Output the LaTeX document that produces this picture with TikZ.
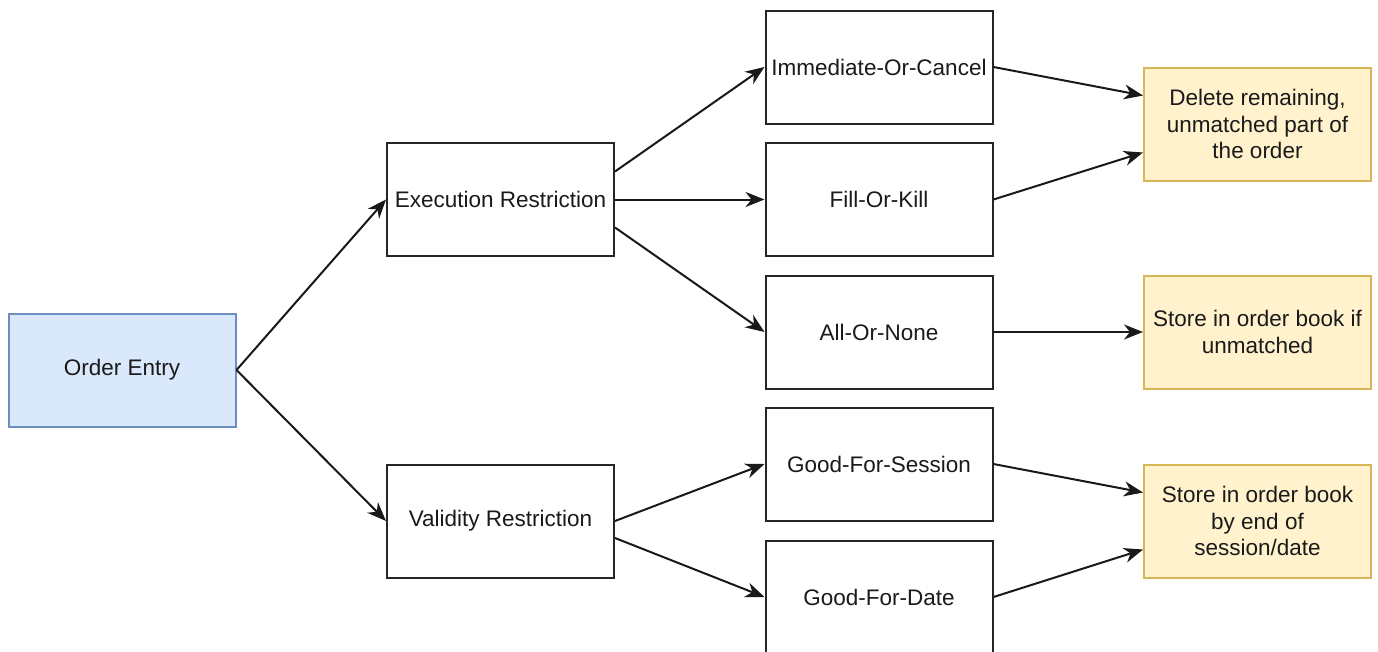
\documentclass[tikz,border=0pt]{standalone}
\usepackage{fontspec}
\setmainfont{Liberation Sans}
\usetikzlibrary{arrows.meta}
\definecolor{bluefill}{HTML}{DAE8FC}
\definecolor{bluedraw}{HTML}{6C8EBF}
\definecolor{yelfill}{HTML}{FFF2CC}
\definecolor{yeldraw}{HTML}{D6B656}
\definecolor{txt}{HTML}{1A1A1A}
\tikzset{
  box/.style={draw=black!85, line width=2pt, minimum width=227pt, minimum height=113pt, inner sep=0pt, align=center, text=txt, font=\fontsize{22.5}{26.5}\selectfont},
  bluebox/.style={box, fill=bluefill, draw=bluedraw},
  yelbox/.style={box, fill=yelfill, draw=yeldraw},
  conn/.style={line width=2pt, black!90, -{Stealth[length=19pt,width=15pt,inset=6pt]}}
}
\begin{document}
\begin{tikzpicture}[x=1pt,y=-1pt]
\clip (0,0) rectangle (1378,651);
\fill[white] (0,0) rectangle (1378,651);
\node[bluebox] (oe) at (122,370) {\raisebox{-3pt}{Order Entry}};
\node[box] (ex) at (500.5,199.5) {\raisebox{-1pt}{Execution Restriction}};
\node[box] (va) at (500.5,521) {\raisebox{-3pt}{Validity Restriction}};
\node[box] (ioc) at (879,67) {\raisebox{-1pt}{Immediate-Or-Cancel}};
\node[box] (fok) at (879,199.5) {\raisebox{-1pt}{Fill-Or-Kill}};
\node[box] (aon) at (879,332) {\raisebox{-1pt}{All-Or-None}};
\node[box] (gfs) at (879,464) {\raisebox{-1pt}{Good-For-Session}};
\node[box] (gfd) at (879,597) {\raisebox{-1pt}{Good-For-Date}};
\node[yelbox] (del) at (1257.5,124) {Delete remaining,\\unmatched part of\\the order};
\node[yelbox] (st1) at (1257.5,332) {Store in order book if\\unmatched};
\node[yelbox] (st2) at (1257.5,521) {Store in order book\\by end of\\session/date};
\draw[conn] (oe.east) -- (ex.west);
\draw[conn] (oe.east) -- (va.west);
\draw[conn] ([yshift=28pt]ex.east) -- (ioc.west);
\draw[conn] (ex.east) -- (fok.west);
\draw[conn] ([yshift=-28pt]ex.east) -- (aon.west);
\draw[conn] (va.east) -- (gfs.west);
\draw[conn] ([yshift=-17pt]va.east) -- (gfd.west);
\draw[conn] (ioc.east) -- ([yshift=28.5pt]del.west);
\draw[conn] (fok.east) -- ([yshift=-28.5pt]del.west);
\draw[conn] (aon.east) -- (st1.west);
\draw[conn] (gfs.east) -- ([yshift=28.5pt]st2.west);
\draw[conn] (gfd.east) -- ([yshift=-28.5pt]st2.west);
\end{tikzpicture}
\end{document}
